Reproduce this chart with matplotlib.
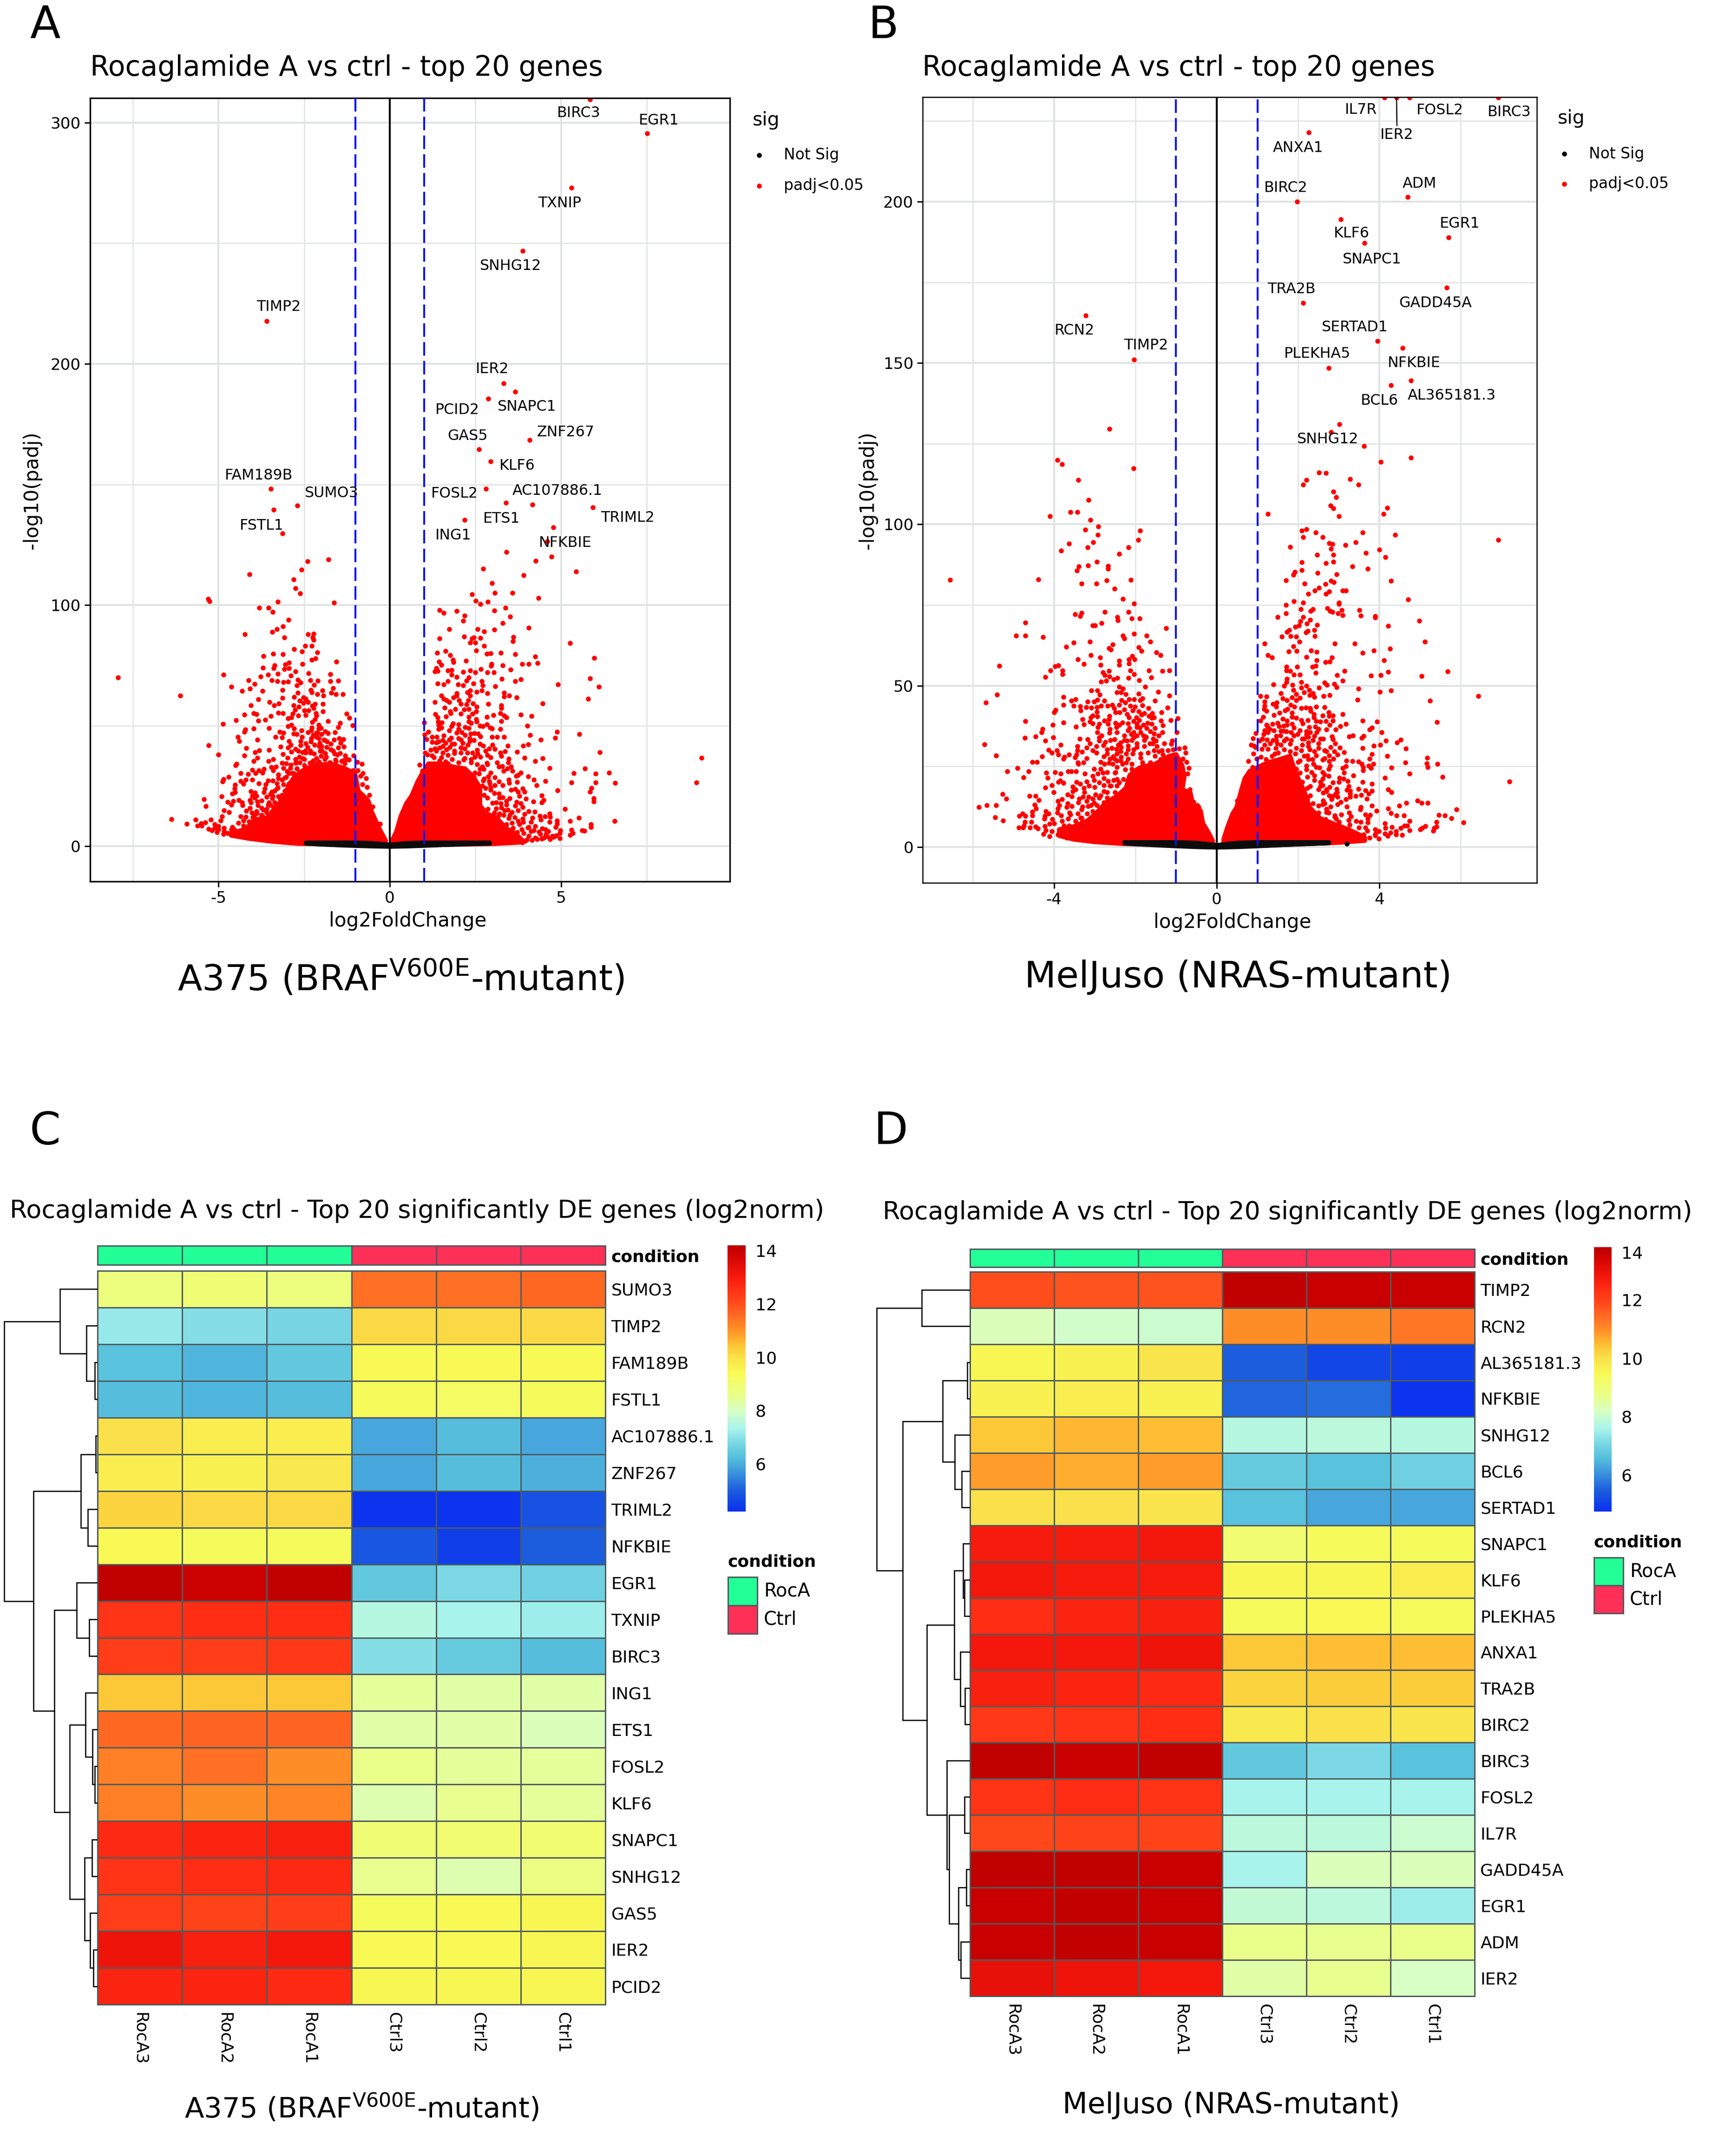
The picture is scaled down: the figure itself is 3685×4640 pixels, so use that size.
# =============================================================================
# Setup
# =============================================================================
import numpy as np
import matplotlib
matplotlib.use('Agg')
import matplotlib.pyplot as plt
from matplotlib.cm import ScalarMappable
from matplotlib.colors import LinearSegmentedColormap, ListedColormap, Normalize
from matplotlib.patches import Rectangle

plt.rcParams['font.family'] = ['DejaVu Sans']
plt.rcParams['mathtext.fontset'] = 'dejavusans'

W, H = 3685, 4640
DPI = 300

# =============================================================================
# Data: volcano A375 (log2FoldChange, -log10 padj)
# =============================================================================
a_top = [(7.51,295.5),(5.31,273),(5.85,309.6),(3.88,246.9),(-3.59,217.8),(3.32,192),(3.66,188.5),(2.88,185.6),
 (4.08,168.4),(2.6,164.6),(2.94,159.5),(-3.47,148.1),(2.81,148.1),(3.39,142.4),(4.16,141.7),(-2.7,141.2),
 (-3.39,139.5),(5.93,140.4),(2.18,135.2),(4.77,132.1),(-3.14,129.7),(4.6,126.4),(3.4,121.9),(4.72,120),
 (4.26,118.4),(-1.79,118.9),(-2.4,118.2),(-2.58,114.6),(2.73,115),(-4.1,112.8),(5.44,113.9),(3.91,112.3),
 (-2.81,110.7),(2.99,109),(-2.75,106.9),(-2.62,104.8),(3.58,105.1),(3.07,105.1),(2.4,104.4),(4.34,103),
 (2.51,101.8),(2.86,101.4),(2.65,100.5),(-5.3,102.5),(-5.27,101.6),(-3.27,101.4),(-1.63,101)]

a_left = [(-3.81,98.9),(-3.54,98.9),(-3.42,97.1),(-2.96,93.9),(-3.12,91.2),(-3.29,90),(-3.43,88.9),(-4.23,87.9),
 (-2.39,87.9),(-2.22,88),(-2.25,86.5),(-2.23,85.5),(-3.08,86.5),(-2.47,83),(-2.28,83),(-2.79,81.8),(-2.56,80.8),
 (-2.12,80.4),(-3.4,79.8),(-3.12,79.6),(-3.69,78.9),(-2.17,77.8),(-2.28,77.3),(-1.56,76.5),(-2.95,76.2),
 (-3.05,75.3),(-2.55,75.5),(-3.37,74.9),(-3.39,73.9),(-3.7,74),(-2.95,73.8),(-3.08,73.5),(-2.76,72.4),(-4.85,71.2),
 (-3.27,71.5),(-3.56,71.2),(-2.38,71.8),(-1.73,71.4),(-2.89,70.8),(-3.77,70.4),(-7.93,70),(-4.13,68.9),(-3.45,68.8),
 (-3.28,68.4),(-3.1,68),(-2.97,68.2),(-2.68,69),(-2.6,67.8),(-2.32,68.8),(-2.1,68.6),(-1.73,68.4),(-1.5,68.6),
 (-3.95,67.2),(-4.63,66.2),(-2.72,66.6),(-2.21,66.8),(-1.65,65.6),(-4.09,65.4),(-4.31,64.4),(-3.72,64.3),(-3.13,64.7),
 (-2.31,64.7),(-1.97,64.5),(-2.28,63.8),(-2.69,63.6),(-1.71,63.6),(-1.57,63.1),(-1.37,63.1),(-2.12,63),(-1.94,62.5),
 (-6.12,62.4),(-2.8,61.8),(-3.13,61.5),(-2.52,61.7),(-2.45,61.2),(-3.84,60.9),(-2.63,60.4),(-3.51,59.7),(-2.39,59.8),
 (-2.53,59.3),(-3.24,59.2),(-1.95,59),(-2.19,58.9),(-4.05,58.4),(-3.38,58.5),(-2.81,58.4),(-2.66,57.9),(-2.27,58.2),
 (-2.23,57.2),(-2.77,56.4),(-2.49,56.2),(-2.37,56.2),(-1.96,55.9),(-3.26,55.4),(-3.12,55.1),(-3.97,55.2),(-3.89,54.8),
 (-4.24,54.5),(-2.84,54.9),(-2.16,55.2),(-1.26,54.9),(-2.46,54.4),(-2.67,54.2),(-3.47,53.9),(-2.14,54.2),(-2.87,53.5),
 (-2.97,53.1),(-1.18,53.3),(-2.18,52.7),(-3.64,52.4),(-4.49,52.3),(-3.84,52.1),(-2.27,51.5),(-1.8,51.9),(-4.87,50.8),
 (-1.45,51),(-2.07,50.4),(-2.87,50.3),(-1.08,50.1),(-2.97,49.7),(-1.51,49.4),(-2.28,49.2),(-2.01,48.9),(-3.97,48.7),
 (-3.53,48.9),(-2.8,48.7),(-2.08,48.7),(-4.22,48.3),(-2.58,48.1),(-3.21,47.5),(-4.25,47.5),(-3.1,47.1),(-1.89,47.7),
 (-2.39,47.2),(-1.8,46.9),(-1.6,47.2),(-2.29,48),(-2.81,46.6),(-2.72,46.4),(-2.1,46.8),(-2.24,46.1),(-4.44,45.4),
 (-3.34,45.3),(-3.15,45.2),(-2.56,45.4),(-2.14,45.4),(-2.29,44.8),(-1.48,44.7),(-1.35,44.3),(-3.86,44.2),(-1.92,44.2),
 (-1.63,44.1),(-2.07,44.8),(-4.4,43.5),(-2.94,43.6),(-2.6,43.6),(-2.31,43.3),(-1.83,43.4),(-1.44,42.9),(-2.46,42.6),
 (-2.05,42.8),(-1.72,42.4),(-5.29,41.8),(-2.89,42),(-2.61,41.8),(-1.34,41.2),(-3.19,41.3),(-2.97,40.8),(-2.06,41.4),
 (-1.51,40.8),(-4.19,40.7),(-2.76,40.3),(-3.81,39.7),(-3.53,39.9),(-1.72,40.1),(-2.67,39.5),(-2.47,39.6),(-2.32,39.5),
 (-2.03,39.5),(-3.94,38.9),(-2.87,39.1),(-2.21,38.4),(-1.62,38.3),(-5,38),(-3.12,38.1),(-1.53,38),(-4.25,37.7),
 (-1.3,37.7),(-1.06,37.7),(-1.86,37.1),(-3.86,36.6),(-2.98,36.6),(-2.55,36.5),(-1.2,35.9),(-3.41,36.1),(-1.59,35.8),
 (-3.54,35.3),(-3.97,35.3),(-2.73,34.7),(-0.95,34.9),(-1.34,35.6),(-0.82,34.2),(-3.02,34.3),(-3.15,34.5),(-1.31,34.3),
 (-4.48,34.2),(-2.03,34.3),(-2.29,34.8),(-1.75,34.7),(-2.89,33.8),(-4.5,33.6),(-3.11,32.5),(-3.33,32.9),(-3.46,32.7),
 (-2.71,32.3),(-3.67,32),(-4.02,31.7),(-3.83,31.4),(-3.41,31.5),(-1.07,31.5),(-0.93,31.4),(-3.92,30.2),(-3.72,30.4),
 (-4.36,30.2),(-3.26,29.8),(-4.14,29.9),(-2.94,30.2),(-2.81,30.2),(-0.79,30.2),(-0.85,29.2),(-3.25,28.2),(-3.07,28.3),
 (-4.71,28.7),(-0.69,28.1),(-4.86,27.7),(-4.01,27.5),(-4.89,26.9),(-4.36,27.1),(-4.21,27.5),(-3.42,27.3),(-3.55,27.3),
 (-3.82,26.1),(-4.28,25.8),(-3.3,26.1),(-4.52,25.4),(-3.62,25.7),(-3.1,25.7),(-0.8,25.7),(-3.27,24.4),(-0.67,24.5),
 (-4.53,24),(-3.65,23.9),(-4.05,22.7),(-3.36,22.9),(-4.52,22.3),(-3.68,22.3),(-4.6,21.8),(-3.93,22.1),(-3.49,21.6),
 (-0.6,21.3),(-3.9,20.9),(-4.01,20.8),(-3.15,21.2),(-4.91,20.6),(-3.42,20.8),(-3.6,20.5),(-3.26,20.6),(-5.42,19.5),
 (-3.43,19.9),(-3.07,19.6),(-4.08,19.2),(-4.41,19.1),(-3.86,18.6),(-4.57,18.8),(-4.73,18.4),(-4.32,18.2),(-3.2,18.8),
 (-0.68,18.8),(-3.53,18.2),(-3.36,18.1),(-4.06,18.1),(-4.62,17.2),(-4.3,17),(-3.56,17.2),(-2.93,17.1),(-5.37,16.6),
 (-3.38,16.2),(-3.12,16.2),(-0.5,16.4),(-4.08,15.9),(-3.75,15.9),(-3.59,15.5),(-3.24,15.5),(-4.84,14.8),(-4.19,14.6),
 (-3.33,14.3),(-4.7,14.1),(-4.03,13.9),(-3.88,13.7),(-3.49,13.3),(-4.9,12.4),(-4.36,12.4),(-4.21,12.1),(-3.7,12.1),
 (-0.47,11.9),(-6.38,11.3),(-5.67,11.1),(-5.22,11.1),(-4.27,10.6),(-4.94,10.6),(-4,9.9),(-3.56,9.9),(-5.38,9.8),
 (-5.51,9.4),(-5.93,9.3),(-5.11,9),(-5.62,8.6),(-5.49,8.6),(-4.27,8.6),(-0.29,9.3),(-5,8.3),(-4.02,8),(-4.6,8),
 (-5.29,7.1),(-5.12,7.6),(-4.84,7.6),(-5.2,6.5),(-5,7),(-4.55,7),(-5.04,5.9),(-4.73,5.5),(-4.85,5)]

# clumps around the solid part, left side
a_left_clump = [(-2.45,38.8),(-2.32,38.8),(-1.98,39.5),(-1.88,38.5),(-2.01,37.5),(-2.14,36.5),(-2.24,35.5),(-2.08,35.1),(-1.9,36.1),
 (-1.75,34.8),(-1.57,35.1),(-1.41,35.3),(-2.5,36.1),(-2.63,34.8),(-2.76,34.5),(-2.5,33.5),(-2.34,34.5),(-2.16,34.2),(-2.71,32.2),
 (-2.86,30.2),(-3.02,28.8),(-3.15,27.5),(-3.07,22.9),(-3.2,19.6),(-3.49,16.9),(-3.69,15),(-3.95,12.9),(-4.11,10.3),(-4.42,9.6),
 (-4.63,7),(-4.84,6.3),(-3.69,10.9),(-3.28,12.9),(-4,12),(-3.9,14.5),(-3.8,11),(-3.75,13),(-3.6,14),(-3.5,12),(-3.4,15),(-3.3,17.5),
 (-3.2,15),(-3.15,19),(-3.1,21),(-3,23),(-3.85,17),(-3.75,19),(-3.95,20),(-3.45,22.5),(-3.3,24),(-2.95,26),(-3,31),(-2.9,32.5),
 (-2.75,36),(-2.65,37),(-2.55,39),(-2.4,41),(-2.2,42),(-2,41.5),(-1.85,41),(-1.65,39.5),(-1.45,38.5),(-1.25,36),(-1.9,44),(-2.15,47),(-2,46.5)]

a_right = [(3.38,98.8),(1.45,97.9),(1.95,97.5),(3.05,97.7),(1.57,96.7),(2.19,95.5),(3.52,95.3),(2.15,93.5),(3.3,92.5),
 (4.05,90.6),(1.74,90.1),(2.56,90.1),(3.05,89.8),(2.76,89.1),(2.17,87),(3.61,86.7),(2.46,86.5),(2.4,86.2),(2.64,86.3),
 (1.45,86.1),(3.59,85),(2.35,84.5),(2.49,84.5),(5.27,84.3),(2.75,83),(1.63,81),(2.52,81.2),(1.38,80.2),(3.24,80.2),
 (2.83,79.8),(2.94,80),(3.66,79.6),(1.76,79.3),(4.25,78.7),(5.97,78),(1.85,77.3),(2.23,76.9),(1.44,76.6),(1.86,76.3),
 (4.32,75.9),(2.97,75.6),(3.87,75.6),(4.06,75.5),(1.51,75.2),(3.29,74.9),(2.96,74.7),(1.36,73.9),(2.66,73.4),(1.81,73.1),
 (3.53,73.2),(1.7,72.8),(2.35,72.8),(1.4,72.6),(1.32,72.4),(2.15,72.2),(2.5,72.1),(2.85,72.1),(3.04,72.1),(1.8,71.1),
 (1.95,70.2),(2.31,70),(5.85,69.5),(3.27,69.3),(3.83,69.2),(2.24,68.6),(1.7,68.5),(2.69,68.5),(3.66,68.4),(1.4,67.4),
 (1.57,67.1),(2.44,67.4),(2,67),(4.91,67),(2.14,66.7),(2.71,66.6),(3.08,66.4),(6.1,66.2),(2.34,64.5),(2.69,64.5),
 (2.54,64),(3.34,63.7),(1.96,63.5),(2.85,63.5),(2.26,63.9),(1.51,62.5),(3.48,62.5),(2.35,62.5),(1.96,62.5),(3.34,62.1),
 (3.71,61.7),(1.86,61.7),(5.79,61.1),(1.57,61.2),(2.02,60.5),(2.29,60.5),(1.66,60.5),(1.32,59.8),(1.73,59.7),(2.08,59),
 (2.43,59.2),(2.87,58.9),(2.24,58.8),(4.46,59.1),(3.26,58.5),(3.25,57.2),(2.53,57.8),(1.6,57.4),(1.91,56.8),(2.31,56.9),
 (2.17,56.7),(1.76,56),(2.52,56),(1.33,54.8),(2.08,54.9),(1.78,55.2),(2.42,54.9),(3.03,54.3),(3.83,54.5),(3.23,55.1),
 (3.34,54.2),(4.14,53.9),(1.64,53.7),(1.4,53.4),(2.84,53.6),(2.31,53.6),(3.4,53.5),(2.52,52.6),(2.53,51.7),(3.25,51.8),
 (1.01,51.3),(1.41,51.7),(2.3,51.7),(1.52,51.2),(2.38,51.1),(1.85,50.9),(2.01,50.6),(2.84,50.6),(1.43,50.3),(2.63,49.9),
 (2.71,49.7),(4.01,49.9),(1.8,49.7),(1.51,49.1),(2.2,49.3),(2.93,49.1),(2.31,48.9),(2.99,48.7),(3.23,48.5),(1.43,48.6),
 (2.01,48.6),(1.73,48.1),(4.89,47.4),(1.13,47.4),(2.1,47.2),(2.47,46.9),(5.54,46.5),(2.36,46.6),(2.58,46.6),(1.02,46.2),
 (4.1,46),(1.57,45.8),(1.23,45.4),(1.37,45.4),(2.65,45.6),(2.99,45.4),(3.13,45.4),(3.34,45.4),(1.79,44.9),(4.83,45),
 (1.07,44.4),(2.33,44.8),(2.08,44.1),(4.41,44.2),(2.33,43.6),(1.42,43.4),(1.23,43.1),(1.88,42.4),(4.04,42.2),(2.63,42.4),
 (3,42),(2.28,42.1),(3.9,41.6),(3.44,41.6),(2.72,41.6),(1.54,41.4),(1.32,40.5),(2.9,40.5),(3.07,40.3),(1.66,40.1),
 (2.19,40.5),(2.79,39.5),(3.37,39.3),(3.72,39.2),(1.03,38.7),(6.13,38.9),(3.23,38.8),(2.07,38.8),(2.57,38.4),(1.88,38.5),
 (2.85,37.8),(3.25,37.5),(1.23,37.6),(2.41,38.7),(2.94,36.8),(3.93,36.6),(4.46,36.4),(3.47,36.3),(2.48,37.1),(1.51,36.8),
 (4.25,35.3),(2.37,34.8),(3.46,34.7),(3.14,34.8),(2.83,34.5),(2.85,34),(1.7,34.3),(0.87,33.8),(2.16,35.8),(3.19,33),
 (3.28,33.2),(2.63,32),(2.74,32),(3.54,33),(4.66,32.4),(5.7,32.2),(3.43,32.2),(0.95,31.2),(3.58,31.3),(3.33,31.2),
 (2.94,30.5),(2.48,30.5),(5.37,30.2),(3.83,30.5),(6.4,30.4),(6.01,30),(3.75,29.5),(3.69,29.2),(4.04,29),(2.88,29),
 (2.46,28.8),(3.07,28.5),(4.2,27.5),(2.73,27.2),(3.47,27.5),(3.19,26.9),(4.55,27),(3.72,26.7),(5.3,26.4),(6.01,26.4),
 (6.58,26.3),(8.95,26.4),(9.1,36.6),(3.48,26.2),(2.92,26.1),(3.29,25.3),(4.28,25.3),(3.07,25.2),(2.79,24.2),(5.89,24.2),
 (3.88,23.9),(3.66,23.7),(3.54,23.4),(4.9,23.1),(2.94,23.4),(3.94,22.5),(5.85,22.6),(3.75,22.5),(3.19,21.9),(2.76,21.2),
 (4.44,21),(3.78,20.9),(3.97,19.7),(5.95,19.9),(3.29,20.2),(3.5,19.9),(4.49,19.1),(3.41,18.8),(5.96,18.6),(4.19,18.6),
 (4.43,18.1),(3.7,18.4),(3.24,17.8),(3.1,18.2),(3.83,17.7),(3.41,17.2),(3.66,16.8),(3.88,16.2),(2.63,16.6),(2.86,15.4),
 (5.12,15.4),(3.11,15.6),(3.35,14.9),(3.75,14.8),(4.05,14.5),(4.23,14.3),(3.57,14.1),(4.66,13.5),(3.94,13.3),(3.05,13.9),
 (3.32,12.9),(3.17,12.7),(4.38,12.6),(4.53,12.3),(4.68,12.1),(4.16,11.8),(5.52,11.8),(3.47,11.6),(3.88,11.4),(4.41,11.1),
 (4.89,10.6),(5.26,10.4),(6.57,10.4),(4.13,10.1),(4.66,10.1),(3.75,10.4),(3.57,9.7),(4.88,9.3),(3.78,9),(3.41,9),
 (5.87,9),(4.24,8.4),(5.87,8),(4.84,8),(4.03,7.8),(3.6,7.6),(4.45,7.3),(5.3,6.8),(4.98,6.6),(5.62,6.6),(5.69,6.4),
 (4.63,6.2),(3.57,6.2),(4.13,6.3),(3.72,5.8),(4.35,6),(5.34,5.5),(3.91,5.5),(4.97,5.5),(4.56,5),(5.27,4.6),(4.79,3.8),
 (4.97,3.3),(4.06,4.3),(4.44,3.2),(4.68,3),(3.87,1.5),(4.25,3.6),(3.69,3.3),(4,2.7),(3.53,3)]

a_right_clump = [(1.35,39.5),(1.54,38.8),(1.7,37.8),(1.29,36.8),(1.45,35.5),(1.82,36.1),(2.01,34.8),(2.19,36.5),(2.38,36.1),(1.32,34.2),
 (1.63,35.1),(1.88,39.5),(2.07,40.8),(2.26,38.8),(1.45,40.8),(1.63,42.8),(1.82,42.4),(2.01,44.8),(1.73,44.1),(2.13,42.8),
 (4.3,3),(4.5,3.5),(4.15,2.5),(3.95,2.2),(4.6,4),(4.85,4.5),(4.75,4.2),(2.55,34),(2.7,33),(2.6,30),(2.75,28),(2.9,27),(2.7,25),
 (2.95,24.5),(3.05,22),(3.2,20),(2.85,20),(3,18),(3.25,16),(3.45,15),(3.5,13),(3.65,12),(3.2,13.5),(3.9,10),(4.05,8),(3.85,7),
 (4.2,6.5),(4.4,5),(4.55,7),(1.1,38),(1.2,40),(1.75,41),(1.55,44),(1.35,43),(1.95,47),(2.2,46),(2.45,44),(2.55,40),(2.65,37)]

# solid part of the cloud, where single points can no longer be told apart
a_dense_left_x = [-4.63,-4.21,-3.95,-3.59,-3.33,-3.07,-2.97,-2.81,-2.66,-2.45,-2.14,-1.72,-1.31,-1.02,-0.92,-0.63,-0.53,-0.32,-0.12]
a_dense_left_y = [5.5,7,11,11.6,16.2,18.9,24.9,28.2,30.2,32.2,33.5,34.2,32.2,30.2,22.9,18.9,14.3,7.6,2.3]
a_floor_left_x = [-0.12,-0.5,-1.5,-2.66,-3.43,-4.11,-4.63]
a_floor_left_y = [0.2,0.4,0.8,1.1,2,3.2,4.5]
a_dense_right_x = [0.07,0.2,0.32,0.48,0.64,0.82,0.95,1.13,1.51,1.88,2.19,2.44,2.63,2.63,2.82,3.13,3.38,3.69,3.88]
a_dense_right_y = [2.3,6.3,12.3,17.6,20.9,26.9,30.2,34.2,34.2,32.8,32.2,28.8,24.2,16.9,13.6,11.6,7.6,5,2.3]
a_floor_right_x = [3.88,3,2,1,0.07]
a_floor_right_y = [1.7,1,0.8,0.4,0.2]

# not significant band
a_ns_x = [-2.45,-2,-1.5,-1,-0.5,0,0.5,1,1.5,2,2.5,2.91]
a_ns_low = [1.3,0.9,0.6,0.35,0.15,0,0.15,0.4,0.7,0.9,1.15,1.3]
a_ns_high = [1.5,1.5,1.5,1.5,1.3,0.6,1.3,1.5,1.5,1.5,1.5,1.5]

a_labels = [('BIRC3',5.52,303.9),('EGR1',7.86,300.9),('TXNIP',4.96,266.6),('SNHG12',3.53,240.5),('TIMP2',-3.24,223.6),
 ('IER2',2.99,197.7),('PCID2',1.97,180.9),('SNAPC1',4.01,182.2),('ZNF267',5.13,171.6),('GAS5',2.27,170),('KLF6',3.72,157.8),
 ('FAM189B',-3.82,153.7),('SUMO3',-1.7,146.4),('FOSL2',1.89,146.2),('AC107886.1',4.9,147.3),('TRIML2',6.95,136.1),
 ('ETS1',3.27,135.8),('FSTL1',-3.74,132.9),('ING1',1.86,128.8),('NFKBIE',5.13,125.7)]

# =============================================================================
# Data: volcano MelJuso
# =============================================================================
b_top = [(2.26,221.4),(4.12,232.3),(4.74,232.3),(6.92,232.3),(4.42,232.3),(1.98,200),(4.7,201.4),(3.05,194.6),(3.63,187.2),
 (5.7,188.9),(5.65,173.4),(2.13,168.6),(-3.22,164.7),(3.95,156.8),(4.57,154.7),(-2.03,151.1),(2.75,148.4),(4.78,144.6),
 (4.28,143.1),(3.01,131),(-2.64,129.6),(2.81,128.6),(3.62,124.3),(4.78,120.6),(-3.92,120),(-3.8,118.7),(4.03,119.3),
 (-2.05,117.4),(2.51,116.1),(2.69,115.9),(3.28,114.1),(-3.4,113.7),(2.2,113.7),(2.13,112.3),(3.48,112.3),(2.87,110.1),
 (2.93,108.4),(-3.15,107.5),(2.8,105.8),(4.19,105.1),(2.87,104.9),(-3.43,103.8),(-3.6,103.8),(4.1,103.2),(1.26,103.3),
 (3,102.5),(-4.1,102.5),(-3.11,101.4),(-2.91,99.4),(2.09,98.1),(2.21,98.5),(2.43,97.5),(-3.23,98.3),(-1.88,98.1),(3.59,97.5),
 (-2.92,96.8),(4.39,96.8),(2.12,96.1),(2.6,96),(6.92,95.1),(-1.93,95.2),(-3.04,94.5),(3.42,94.5),(-3.63,94),(2.76,94.2),
 (2.84,93.9),(3.16,93.6),(-2.17,92.9),(-3.18,92.9),(1.81,93),(2.81,92.5),(4,92.2),(-3.83,91.8),(3.67,91.2),(-2.4,90.8),
 (2.47,90.5),(2.87,90.5),(4.15,89.8),(-2.95,88.4),(2.09,88.2),(2.87,88.4),(2.69,87.9),(-2.67,87.1),(-3.16,87.2),(-3.39,86.9),
 (3.34,87),(-2.67,86.2),(-3.44,85.6),(3.71,86.2),(2.09,85.8),(2.48,85),(1.92,85.2),(1.89,84.3),(-6.56,82.8),(-4.39,83),
 (2.95,84.5),(1.7,82.6),(-2.71,82.6),(-2.11,82.8),(4.28,82.5),(2.81,82.5),(2.88,82),(2.16,81.6),(2.67,81.5),(-3.32,81.6),
 (-2.96,81.6),(2.51,80.4),(-2.51,80.1),(2.41,79.5),(2.25,78.4),(2.69,78.5),(2.76,79.2),(3.09,79.5),(3.17,79.5),(4.71,76.8),
 (-2.31,76.9),(3,75.7)]

b_left = [(-2.03,75.4),(-2.75,72.8),(-3.32,72.5),(-3.48,72.1),(-3.36,71.5),(-2.17,72.8),(-2.44,71.2),(-2.43,70.2),(-2.09,70.8),
 (-1.9,70.8),(-4.71,69.6),(-2.83,69.4),(-3.05,68.7),(-2.99,68.7),(-1.25,67.8),(-4.93,65.5),(-4.71,65.5),(-4.27,65.1),
 (-2.03,66.1),(-2.31,65.5),(-1.72,65.5),(-2.27,64.7),(-1.63,63.7),(-3.52,63.4),(-3.12,63.6),(-2.56,62.8),(-3.7,62),(-1.92,61.9),
 (-2.65,61.6),(-2.6,61.2),(-1.85,60.8),(-1.48,60.3),(-1.38,59.5),(-3.1,59.5),(-2.08,59.2),(-2.87,58.7),(-2.16,58.1),(-2.02,58.1),
 (-3.41,58.1),(-2.4,57.8),(-2.16,56.9),(-3.27,56.7),(-5.34,56.2),(-2.86,56.5),(-2.4,56.4),(-3.98,56),(-3.89,56.3),(-4.09,54.7),
 (-3.79,54.7),(-2.12,54.7),(-2.65,54.5),(-1.67,54.7),(-1.34,54.5),(-1.16,54.7),(-2.8,54.2),(-3.79,53.5),(-2.75,53.3),(-2.03,53.5),
 (-2.64,52.8),(-4.22,52.7),(-2.44,52.4),(-1.61,52.6),(-2.53,52),(-2.17,52.4),(-2.72,51.6),(-1.91,51.7),(-2.84,51.3),(-1.76,49.7),
 (-2.4,49.7),(-2.31,49.1),(-3.08,48.5),(-2.93,48.5),(-2.46,48),(-2.35,48),(-1.44,48.1),(-2.24,47.4),(-5.4,47.2),(-1.92,47.5),
 (-2.88,47.2),(-1.16,47),(-3.77,46.5),(-1.83,46.1),(-3.47,45.8),(-2.03,45.8),(-2.16,45.8),(-2.34,45.5),(-3.57,45.4),(-2.94,45.6),
 (-2.76,45.4),(-1.52,45.3),(-1.89,45.5),(-3.17,45),(-3.02,45),(-2.25,44.8),(-5.68,44.8),(-3.77,44.1),(-2.12,43.8),(-2.4,44),
 (-2.57,44),(-3.52,43.7),(-2.84,43.7),(-2.68,43.7),(-3.36,43.6),(-2.01,43.5),(-1.83,43.9),(-3.21,43.3),(-3.08,43.2),(-1.21,43.2),
 (-2.95,43.3),(-2.52,43.1),(-1.68,43),(-3.35,42.3),(-3.96,42.5),(-2.07,42.3),(-1.92,42.1),(-2.27,42.6),(-4,41.8),(-2.95,41.9),
 (-2.49,41.8),(-2.39,41.7),(-1.36,41.8),(-1.78,41.5),(-2.2,41.2),(-1.59,41.5),(-3.05,40.8),(-1.67,40.6),(-2.64,40.6),(-2.94,40.4),
 (-1.54,40.2),(-0.96,39.9),(-3.09,40.1),(-1.98,40.1),(-2.16,40.1),(-3.3,39.6),(-1.13,39.3),(-1.37,39.1),(-4.71,39),(-1.91,39.3),
 (-2.76,39.1),(-2.65,39.6),(-3.12,38.8),(-3.77,38.6),(-2.49,38.5),(-2.32,38.6),(-2.18,38.3),(-3.05,38.3),(-2.89,38.2),(-1.6,38.2),
 (-3.27,38),(-1.96,38.1),(-2.67,38.1),(-4.03,37.8),(-1.32,37.7),(-2.4,37.8),(-1.8,37.8),(-3.46,37.3),(-2.47,37.1),(-2.92,37.1),
 (-1.52,36.9),(-4.28,36.6),(-2.63,36.6),(-2.15,36.8),(-1.72,36.9),(-4.31,35.6),(-2.94,35.6),(-0.98,35.5),(-2.05,35.6),(-2.64,35.4),
 (-1.34,35.6),(-2.45,35.6),(-1.63,35.9),(-2.83,34.6),(-1.43,34.6),(-1.8,34.6),(-2.27,34.6),(-4.72,33.8),(-4.46,34.2),(-4.02,33.9),
 (-3.37,33.5),(-2.89,33.9),(-2.51,33.4),(-2.05,33.9),(-1.56,33.6),(-3.17,33.4),(-2.62,33.1),(-4.21,32.9),(-2.89,32.9),(-2.27,33.1),
 (-1.78,33.1),(-3.12,32.1),(-2.74,32.6),(-1.29,32.1),(-5.71,31.8),(-3.84,31.6),(-2.36,32.4),(-1.12,31.9),(-2.79,31.5),(-1.58,32.1),
 (-2.18,31.4),(-3.43,31.2),(-2.96,31.2),(-2.42,31.7),(-3.2,30.8),(-1.96,30.9),(-0.79,30.8),(-0.92,30.5),(-2.58,30.7),(-2.47,30.4),
 (-3.43,29.9),(-4.13,30.1),(-3.93,29.9),(-2.69,30.2),(-1.54,29.9),(-3.05,29.9),(-4.06,29.2),(-1.07,30.2),(-3.31,29.5),(-2.96,29.2),
 (-0.77,29.2),(-2.23,28.9),(-2.07,28.9),(-3.63,28.6),(-3.9,28.7),(-5.43,28.4),(-3.45,28.7),(-2.69,28.9),(-1.87,28.9),(-1.32,28.7),
 (-2.78,28),(-4.29,28),(-3.75,27.9),(-3.48,27.8),(-2.35,27.9),(-3.77,27.3),(-3.2,27.5),(-2.63,27.3),(-2.51,27.3),(-0.83,27.4),
 (-2.18,27.4),(-2.45,26.7),(-4.53,26.4),(-4.42,26.4),(-2.85,26.4),(-0.74,26.3),(-3.41,26.2),(-3.28,26.2),(-3.4,25.7),(-2.76,25.8),
 (-2.56,25.7),(-0.91,25.4),(-2.32,25.7),(-4.9,24.4),(-3.02,24.2),(-0.69,24.4),(-2.45,24.7),(-2.85,24.2),(-2.09,24.2),(-5.15,23.4),
 (-4.63,23.4),(-3.66,23.4),(-3.58,23.4),(-3.46,23.5),(-3.98,23.1),(-4.19,23),(-3.84,22.8),(-3.24,22.7),(-2.69,23.2),(-0.72,22.8),
 (-2.92,22.7),(-2.8,23),(-2.49,23.2),(-3.05,22),(-4.75,21.6),(-4.16,21.5),(-2.78,21.3),(-2.45,21),(-3.85,20.6),(-3.02,20.7),
 (-3.2,20.3),(-3.45,20.2),(-3.89,20.2),(-2.67,20.5),(-3.77,19.8),(-2.89,20),(-2.54,20.7),(-2.78,19.2),(-3.36,19.5),(-4.06,19.1),
 (-3.14,19),(-2.63,19),(-4.22,18.4),(-3.54,18.7),(-2.45,19),(-3.27,18.3),(-3,18.5),(-3.47,17.8),(-0.66,17.9),(-2.78,17.3),
 (-4.01,17),(-3.25,17),(-3.54,17.3),(-5.27,16.4),(-2.98,16.3),(-3.67,16.3),(-4.6,15.8),(-4.46,15.8),(-3.56,15.7),(-3.29,15.5),
 (-3.38,15),(-5.17,14.9),(-2.89,15.3),(-3.05,15),(-2.69,15.3),(-3.8,14.8),(-4.38,14.6),(-3.2,14.3),(-2.43,14.5),(-0.57,14),
 (-3.91,14.3),(-3.4,13.8),(-3.67,13.5),(-2.78,13.8),(-3.02,13.7),(-5.65,13),(-5.42,12.9),(-4.48,13.1),(-2.23,13.8),(-2.36,12.8),
 (-0.48,12.9),(-5.85,12.3),(-3.87,13),(-3.56,12.6),(-3.16,12.7),(-0.45,12.3),(-4.44,11.9),(-3.91,11.9),(-3.32,11.7),(-3.69,12.3),
 (-2.85,11.8),(-4.2,11.1),(-4.53,11),(-3.05,11.1),(-3.62,10.6),(-3.42,10.3),(-4.14,10.4),(-3.92,10.6),(-4.77,10.4),(-2.63,10.8),
 (-3.19,10.3),(-4.85,9.6),(-4.71,9.6),(-4.53,9.8),(-4.23,9.6),(-3.83,9.8),(-5.45,9.2),(-3.65,8.8),(-3.32,9.1),(-5.25,8.2),
 (-4.04,8.6),(-4.24,8.7),(-3.07,9.1),(-4.72,7.8),(-4.56,7.7),(-3.8,8.1),(-3.47,8.1),(-3.32,7.6),(-2.85,8.1),(-4,7.3),(-3.63,6.6),
 (-4.11,7.2),(-4.74,6.6),(-4.23,6.4),(-3.76,6.6),(-3.47,6.3),(-4.86,6),(-4.46,6.3),(-4.59,6),(-4.4,5.8),(-4.76,6.1),(-4.2,5.1),
 (-4.05,4.9),(-3.87,5.4),(-4.26,4),(-4.11,3.3),(-3.91,3.9),(-3.69,2.9),(-3.52,2.6)]

b_left_clump = [(-1.96,34.6),(-2.09,33.1),(-1.96,32.1),(-1.78,31.2),(-1.65,32.1),(-1.47,31.2),(-2.18,30.2),(-2.05,30.2),(-1.87,27.7),(-1.69,29.2),
 (-1.52,28.2),(-1.38,27.2),(-1.29,26.7),(-2.36,26.7),(-2.23,26.2),(-2.09,25.7),(-1.83,26.2),(-1.63,26.2),(-1.43,29.7),(-1.74,34.1),
 (-1.96,37.1),(-2.18,36.1),(-1.87,35.6),(-1.54,35.1),(-2.36,29.7),(-3.3,12.5),(-3.1,13),(-2.95,13),(-3.15,15.5),(-2.85,16),(-2.7,17),
 (-2.6,19),(-2.5,17),(-2.4,20),(-2.3,21),(-2.25,24),(-2.5,23),(-2.65,26),(-2.55,28),(-2.45,29),(-2.35,31),(-2.2,33),(-2.1,35),(-1.9,37),
 (-1.7,38.5),(-1.5,33),(-1.35,30),(-1.2,30),(-1.1,33),(-1.6,40),(-1.85,41),(-2.05,39),(-3.6,10),(-3.35,9)]

b_right = [(1.9,76.1),(2.13,75.8),(3,75.3),(1.7,75),(2.07,73.7),(2.37,73.7),(2.31,73.1),(2.72,74),(2.79,73.2),(2.84,72.9),(3.07,73.4),
 (3.51,73.4),(2.98,72.4),(1.7,72.4),(3.09,71.9),(3.54,71.7),(3.89,71.6),(3.89,71.1),(1.5,71.2),(2.13,71.2),(2.3,70.4),(2.06,69.9),
 (4.98,70.1),(2.22,69.2),(2.47,68.8),(4.21,68.5),(2.02,68.7),(1.93,68.2),(1.78,67.3),(2.4,67.2),(2.24,66.9),(1.72,66.6),(2.19,66.5),
 (1.82,65.4),(2.41,65.3),(1.6,65.2),(1.95,65.2),(2.03,63.7),(5.12,63.6),(1.18,63),(2.9,63.1),(3.39,63.1),(1.88,62.2),(4.26,61.5),
 (3.86,60.9),(2.32,60.9),(1.77,60.6),(1.96,60.7),(2.46,60.4),(3.59,60.2),(1.26,59.5),(2.2,58.9),(2.83,58.8),(1.36,58.8),(2.46,57.9),
 (4.11,57.9),(2.78,57.5),(2.67,57.3),(1.98,55.9),(2.43,56.2),(2.35,55.8),(1.71,55.9),(5.68,54.4),(3.14,54.6),(4.21,54.3),(1.71,54.7),
 (1.8,54.5),(2.43,54),(2.96,53.2),(1.9,53.4),(2.04,53.4),(3.79,53.1),(4.03,53.3),(5.04,53),(1.72,52.1),(3.09,51.6),(1.71,51.1),
 (2.08,51.1),(2.65,51),(2.71,50.3),(1.39,50.4),(2.89,50.6),(1.66,50),(1.86,50.2),(2.2,49.9),(2.08,49.4),(2.51,49.4),(2.95,49.5),
 (3.48,49.1),(1.89,48.6),(4.28,48.5),(4.01,48.1),(2.27,48.7),(2.15,47.9),(1.58,47.6),(2.37,47.7),(1.95,47.4),(2.29,47.1),(2.78,47.1),
 (6.43,46.8),(1.07,46.8),(1.22,46.7),(2.63,46.8),(2.4,46.5),(2.04,46.2),(1.62,46.1),(1.85,46.3),(3.46,45.7),(1.72,45.5),(5.24,45.4),
 (1.95,45.5),(1.18,45.1),(1.47,44.8),(1.38,44.3),(1.82,44),(1.18,43.8),(1.91,43.5),(1.46,43.5),(2.45,43.5),(2.65,43.3),(2.08,43),
 (2.19,43.2),(2.3,43.1),(1.74,42.8),(1.16,42.7),(1.68,42.3),(2.31,42.2),(1.22,42.2),(1.85,41.6),(2.75,41.7),(1.54,41.6),(3.09,41.2),
 (1.4,40.9),(2.39,41.1),(2.6,40.7),(2.85,40.7),(2.77,40.6),(1.14,40.3),(1.85,40.3),(1.95,40),(2.39,40.1),(1.62,39.8),(2.08,39.3),
 (2.24,39.3),(3.59,39.1),(3.94,38.9),(2.45,39),(1.72,39.1),(1.07,39.1),(2.86,39.1),(5.41,38.7),(2.69,39),(2.55,38.8),(2.11,38.3),
 (3.18,38.2),(1.37,38.2),(1.85,38.2),(1.73,37.9),(2.78,37.9),(1.22,37.8),(1.65,37.5),(1.53,37.4),(3.04,37.4),(2.27,37.2),(2.42,37.3),
 (3.81,37),(3.76,36.4),(1.26,37.1),(1.41,36.1),(2.92,36.4),(2.7,36.4),(1.18,36.1),(2.05,36.1),(1.58,36),(2.2,35.9),(1.71,35.9),
 (1.83,35.6),(4.05,35.5),(0.96,35.3),(2.46,35.5),(1.99,35),(1.26,35.6),(3.35,34.6),(3.26,34.3),(1.46,34.4),(2.4,34.4),(2.83,34.2),
 (3.61,34.4),(3.56,33.8),(1.56,34.6),(2.25,34.1),(0.89,33.7),(1.12,33.5),(2.62,33.6),(2.15,33.5),(2.86,33.4),(1.23,33.2),(1.83,33.1),
 (4.52,33.3),(4.16,32.9),(4.43,32.4),(1.38,33.1),(1.66,32.9),(2.91,32.1),(0.84,31.6),(0.91,31.4),(2.5,32.1),(2.25,32.4),(1.48,32.1),
 (1.18,31.7),(4.02,31.7),(1.8,31.9),(3.86,31.4),(1.58,31.6),(3.03,30.8),(4.65,30.5),(3.59,30.6),(1.45,30.6),(1.11,30.4),(2.5,30.7),
 (1.26,30.4),(2.08,29.9),(2.28,30.2),(2.7,29.6),(3.13,29.4),(2.89,29.6),(0.9,29),(3.82,28.8),(1.43,28.9),(1.93,28.9),(2.97,28.7),
 (2.76,28.3),(2.23,28.4),(2.45,28.4),(4.19,28.2),(5.17,27.6),(1.09,27.9),(2.65,27.5),(3.76,27.4),(2.87,27.3),(0.98,27.3),(1.56,27.2),
 (2.25,27.2),(0.78,26.6),(3.19,26.8),(3.34,26.6),(3.48,26.5),(2.77,26.6),(4.64,26.2),(3.85,25.8),(5.42,25.8),(5.16,25.9),(2,26.4),
 (3.56,25.7),(2.38,25.7),(3.74,25.2),(0.88,24.8),(5.19,24.7),(3.6,24.8),(3.17,25),(2.79,25.2),(4.29,24.6),(3.09,24.4),(1.95,24.2),
 (3.79,24.5),(2.2,24),(2.52,24.6),(2.75,24.2),(3.6,23.8),(3.13,23),(2.33,23.2),(4.74,22.7),(2.05,23),(0.79,22),(2.65,22.5),(3.36,22.1),
 (2.4,22.2),(5.55,21.7),(4.13,21.5),(3.02,21.5),(2.23,21.7),(3.12,21.2),(2.6,21.2),(0.75,20.3),(3.22,20.5),(3,20.1),(3.59,20.1),
 (7.2,20.3),(2.55,20.2),(3.82,19.5),(2.1,20.2),(2.6,19.2),(0.66,19),(3.24,18.8),(2.78,18.5),(3.48,18),(4.21,17.9),(3.66,17.6),(3.2,17.7),
 (0.65,18.1),(3.81,17.4),(3.28,17.4),(2.23,18.3),(2.5,17.8),(2.7,17.8),(2.96,17),(4.29,17),(3.74,16.6),(2.62,16.8),(2.92,16.5),(3.28,16.5),
 (3.55,16.1),(3.42,15.8),(3.28,15.6),(2.77,16),(2.3,16),(2.97,15.5),(3.69,14.9),(3.17,14.8),(2.23,14.8),(4.94,14.4),(0.5,14.4),(2.82,14.8),
 (2.62,14.4),(5.19,13.6),(5.04,13.6),(4.66,13.6),(2.37,13.5),(0.53,13.7),(2.65,13.5),(2.97,13.3),(4.49,12.8),(3.81,12.8),(2.5,12.8),
 (2.8,12.5),(0.49,12.3),(3.54,12.3),(2.25,12.5),(4.21,12),(5.89,11.7),(3.53,11.7),(2.7,11.8),(3.93,11.2),(2.35,11.1),(3.25,10.6),(4.28,10.5),
 (2.75,10.6),(2.5,10.6),(0.41,10.2),(3.66,10.1),(4.42,9.8),(4.6,9.8),(3.06,10.1),(5.46,9.9),(5.61,9.8),(3.77,9.9),(2.9,9.8),(2.28,9.6),
 (5.77,8.9),(3.71,8.8),(3.24,8.4),(2.94,8.8),(2.67,8.6),(3.43,8.1),(4.74,8),(3.54,7.8),(5.4,7.7),(3.71,7.6),(3,7.7),(6.07,7.6),(4.14,7.3),
 (3.27,6.9),(2.6,7.6),(5.4,6.3),(5.13,6.4),(4.68,6.6),(4.61,6.6),(4.31,6.2),(4.15,5.9),(4.52,5.9),(5.35,5.9),(3.66,6.1),(5.05,5.9),(5,5.5),
 (3.09,5.6),(3.24,5.4),(3.89,5.4),(4.74,5.1),(5.32,5),(4.41,4.9),(4.27,4.4),(3.99,4.9),(4.41,3.9),(4.14,4.1),(4.56,3.7),(3.61,3.9),(3.89,3.6),
 (3.99,2.6),(3.76,2.9),(3.49,3.4),(3.24,2.9),(3.04,2.4),(2.85,1.9)]

b_right_clump = [(1.21,27.2),(1.36,28.2),(1.51,29.2),(1.66,30.2),(1.8,29.7),(1.95,30.7),(2.1,31.6),(2.25,31.2),(2.4,29.7),(2.15,28.2),(2.35,27.2),
 (2.05,26.7),(2.2,25.2),(2.45,24.7),(2.6,23.2),(2.4,20.7),(2.55,18.8),(2.3,18.8),(2.7,17.3),(2.85,15.8),(2.6,13.3),(2.7,10.8),(2.9,9.3),
 (3,7.8),(2.8,7.6),(1.31,32.1),(1.46,33.1),(1.71,33.6),(1.9,34.6),(2.2,34.9),(2.37,33.1),(0.95,31),(1.05,33),(1.15,35),(1.3,36.5),(1.5,38.5),
 (1.65,36),(1.9,37),(2.1,33.5),(2.3,35.5),(2.5,36.5),(2.55,33.5),(2.65,30),(2.8,31),(2.6,27),(2.75,22),(2.85,20),(2.95,18),(3.05,14),(3.2,12.5),
 (3.3,9.5),(3.5,6),(3.7,5),(3.9,4),(4.2,3.5),(3.4,4.5)]

b_dense_left_x = [-3.87,-3.52,-3.16,-2.94,-2.72,-2.45,-2.23,-2.14,-2.0,-1.87,-1.52,-1.16,-1.0,-0.85,-0.8,-0.85,-0.65,-0.58,-0.4,-0.34,-0.2,-0.1]
b_dense_left_y = [5.4,6.3,8.3,10.8,13.8,15.8,18.3,22.2,23.7,24.7,25.7,28.2,28.7,25.2,21.7,17.8,16.8,12.8,11.3,7.3,4.4,1.9]
b_floor_left_x = [-0.1,-0.5,-1.5,-2.27,-3,-3.52,-3.87]
b_floor_left_y = [0.2,0.4,0.8,1,1.6,2.4,3.5]
b_dense_right_x = [0.17,0.27,0.39,0.49,0.61,0.69,0.81,1.01,1.26,1.56,1.8,1.93,2.15,2.28,2.55,2.85,3.24,3.49,3.64]
b_dense_right_y = [2.4,6.3,10.3,12.3,17.8,21.2,23.5,24.7,26.2,27.2,28.2,23.2,17.3,12.3,8.8,7.3,5.4,3.9,2.9]
b_floor_right_x = [3.64,3,2,1,0.17]
b_floor_right_y = [2,1.4,0.9,0.4,0.2]

b_ns_x = [-2.27,-2,-1.5,-1,-0.5,0,0.5,1,1.5,2,2.5,2.75]
b_ns_low = [1.3,1,0.7,0.4,0.15,0,0.15,0.4,0.7,0.95,1.2,1.3]
b_ns_high = [1.5,1.5,1.5,1.5,1.3,0.6,1.3,1.5,1.5,1.5,1.5,1.5]
b_ns_extra = [(3.2,1.04)]

b_labels = [('IL7R',3.55,228.4),('FOSL2',5.49,228.3),('BIRC3',7.19,227.7),('IER2',4.43,220.6),('ANXA1',2,216.6),('BIRC2',1.7,204.3),
 ('ADM',4.98,205.6),('KLF6',3.32,190.1),('EGR1',5.98,193.2),('SNAPC1',3.82,182.1),('TRA2B',1.84,172.9),('GADD45A',5.37,168.5),
 ('SERTAD1',3.4,161),('RCN2',-3.5,160),('TIMP2',-1.74,155.5),('PLEKHA5',2.47,152.9),('NFKBIE',4.85,150),('AL365181.3',5.78,139.9),
 ('BCL6',4,138.3),('SNHG12',2.73,126.3)]

# =============================================================================
# Data: heatmaps
# =============================================================================
samples = ['RocA3', 'RocA2', 'RocA1', 'Ctrl3', 'Ctrl2', 'Ctrl1']
condition = [0, 0, 0, 1, 1, 1]

c_genes = ['SUMO3','TIMP2','FAM189B','FSTL1','AC107886.1','ZNF267','TRIML2','NFKBIE','EGR1','TXNIP','BIRC3','ING1','ETS1','FOSL2',
           'KLF6','SNAPC1','SNHG12','GAS5','IER2','PCID2']
c_values = [[8.8,8.9,8.8,11.5,11.5,11.6],[7.1,6.9,6.7,10.1,10.1,10.1],[6.3,6.1,6.4,9.4,9.4,9.4],[6.2,6.1,6.2,9.3,9.2,9.3],
 [10,9.7,9.7,5.9,6.2,5.9],[9.7,9.6,9.8,5.9,6.2,6],[10.2,10.1,10.1,4.3,4.3,4.8],[9.4,9.3,9.3,4.9,4.5,5],
 [14.1,13.9,14.1,6.4,6.8,6.6],[12.5,12.6,12.6,7.5,7.3,7.2],[12.3,12.3,12.4,6.9,6.5,6.2],[10.4,10.4,10.4,8.4,8.3,8.3],
 [11.6,11.7,11.7,8.3,8.3,8.1],[11.3,11.5,11.1,8.6,8.4,8.4],[11.3,11.1,11.2,8.2,8.5,8.4],[12.7,12.8,12.9,8.9,9,9],
 [12.5,12.6,12.7,8.5,8.2,8.7],[12.3,12.2,12.3,9.3,9.4,9.5],[13.2,12.9,13.1,9.4,9.4,9.5],[12.8,12.8,12.7,9.5,9.5,9.5]]
c_ticks = [14, 12, 10, 8, 6]
c_range = (4.2, 14.2)

d_genes = ['TIMP2','RCN2','AL365181.3','NFKBIE','SNHG12','BCL6','SERTAD1','SNAPC1','KLF6','PLEKHA5','ANXA1','TRA2B','BIRC2','BIRC3',
           'FOSL2','IL7R','GADD45A','EGR1','ADM','IER2']
d_values = [[11.81,11.72,11.72,13.72,13.63,13.63],[8.28,8.1,8,11,11,11.27],[9.55,9.64,9.91,5.47,5.1,5.01],[9.64,9.73,9.64,5.56,5.65,4.83],
 [10.36,10.54,10.45,7.73,7.82,7.73],[10.82,10.63,10.82,6.83,6.64,6.92],[10,10,9.91,6.64,6.28,6.28],[12.72,12.72,12.81,9.09,9.37,9.37],
 [12.81,12.72,12.72,9.55,9.55,9.73],[12.36,12.54,12.63,9.37,9.46,9.37],[12.81,12.81,12.9,10.36,10.45,10.45],[12.63,12.54,12.45,10.18,10.27,10.27],
 [12.18,12.27,12.36,9.82,10,9.91],[13.72,13.63,13.72,6.73,7.1,6.64],[12.27,12.36,12.27,7.55,7.55,7.55],[11.9,12,12,7.82,7.82,8],
 [13.72,13.72,13.63,7.55,8.28,8.28],[13.63,13.67,13.63,7.91,7.82,7.46],[13.63,13.67,13.63,8.73,8.64,8.73],[13,12.9,12.81,8.46,8.64,8.19]]
d_ticks = [13.63, 12, 10, 8, 6]
d_tick_labels = ['14', '12', '10', '8', '6']
d_range = (4.74, 13.81)

# row clustering: child a, child b, height. Leaves are row numbers, merged nodes count on from 20
c_merges = [(2,3,5),(1,20,20),(0,21,66),(4,5,3),(6,7,17),(23,24,29),(9,10,15),(8,26,37),(13,14,5),(12,28,9),(11,29,21),
            (15,16,10),(18,19,7),(17,32,13),(31,33,23),(30,34,49),(27,35,76),(25,36,113),(22,37,164)]
d_merges = [(0,1,88),(2,3,5),(5,6,15),(4,22,28),(21,23,50),(8,9,10),(7,25,13),(11,12,9),(10,27,18),(26,28,29),(14,15,10),
            (16,17,7),(18,19,17),(31,32,21),(30,33,38),(13,34,42),(29,35,79),(24,36,123),(20,37,170)]

# colour scale of panel C
cmap_values = [4.2,5,5.9,6.3,6.8,7.3,8,8.5,9.4,10,10.4,11,11.5,12,12.6,13.1,14,14.2]
cmap_colors = ['#0a2ff0','#1c5ede','#48a8dc','#5ac4dc','#7cd8e4','#a8f4ec','#d8ffc4','#e8ff90','#f8fa55','#fae04a','#fcc837','#ff9428',
               '#ff7024','#ff4e1c','#ff2e14','#f4170c','#c80000','#bc0000']
cond_colors = ['#22ff96', '#ff3058']

# =============================================================================
# Helpers
# =============================================================================
GRID = '#e0e3e3'
EDGE = '#4f5b5d'
MARKER = 6.5
heat_cmap = LinearSegmentedColormap.from_list(
    'heat', [((v - cmap_values[0]) / (cmap_values[-1] - cmap_values[0]), c) for v, c in zip(cmap_values, cmap_colors)])

fig = plt.figure(figsize=(W / DPI, H / DPI), dpi=DPI)


def ax_px(left, top, right, bottom, **kw):
    return fig.add_axes([left / W, 1 - bottom / H, (right - left) / W, (bottom - top) / H], **kw)


def txt(x, y, s, **kw):
    kw.setdefault('ha', 'center')
    kw.setdefault('va', 'center')
    fig.text(x / W, 1 - y / H, s, **kw)


def volcano(box, xlim, ylim, xmajor, xminor, ymajor, yminor, groups, dense, ns, labels, lw):
    ax = ax_px(*box)
    ax.set_xlim(*xlim)
    ax.set_ylim(*ylim)
    ax.set_axisbelow(True)
    ax.set_xticks(xmajor)
    ax.set_xticks(xminor, minor=True)
    ax.set_yticks(ymajor)
    ax.set_yticks(yminor, minor=True)
    ax.grid(True, which='major', color=GRID, lw=0.95)
    ax.grid(True, which='minor', color=GRID, lw=0.6)
    ax.tick_params(which='minor', length=0)
    ax.tick_params(which='major', length=2.8, width=0.7, labelsize=8.2, pad=2)
    ax.xaxis.set_major_formatter(lambda v, _: f'{v:g}')
    for spine in ax.spines.values():
        spine.set_linewidth(lw)

    for xs, ys in dense:
        ax.fill(xs, ys, color='#ff0000', lw=2.4, joinstyle='round', zorder=2)
    for pts in groups:
        pts = np.array(pts)
        ax.scatter(pts[:, 0], pts[:, 1], s=MARKER, color='#ff0000', lw=0, zorder=2.2)

    ax.fill_between(ns[0], ns[1], ns[2], color='#0c0c0c', lw=2.4, joinstyle='round', zorder=2.5)
    ax.axvline(0, color='black', lw=1.0, zorder=3)
    for xv in (-1, 1):
        ax.axvline(xv, color='#0a14f5', lw=1.0, dashes=(7, 2.7), zorder=3)
    for name, lx, ly in labels:
        ax.text(lx, ly, name, fontsize=7.6, ha='center', va='center', zorder=5)
    return ax


def dendrogram(ax, merges, n_rows):
    nodes = {i: (i + 0.5, 0.0) for i in range(n_rows)}
    for k, (a, b, height) in enumerate(merges):
        ya, ha = nodes[a]
        yb, hb = nodes[b]
        ax.plot([ha, height, height, hb], [ya, ya, yb, yb], color='black', lw=0.62, solid_joinstyle='miter')
        nodes[n_rows + k] = ((ya + yb) / 2, height)
    ax.set_ylim(n_rows, 0)
    ax.set_xlim(max(m[2] for m in merges) + 1, 0)
    ax.axis('off')


def heatmap(mat_box, bar_box, den_left, cb_box, leg, values, genes, vrange, ticks, ticklabels, merges):
    values = np.array(values)
    norm = Normalize(*vrange)

    ax = ax_px(*mat_box)
    ax.pcolormesh(values, cmap=heat_cmap, norm=norm, edgecolors=EDGE, linewidth=0.72)
    ax.set_ylim(len(genes), 0)
    ax.set_yticks(np.arange(len(genes)) + 0.5, genes, fontsize=8.7)
    ax.yaxis.tick_right()
    ax.set_xticks(np.arange(len(samples)) + 0.5, samples, rotation=270, fontsize=8.7)
    ax.tick_params(axis='y', length=0, pad=3)
    ax.tick_params(axis='x', length=0, pad=4)
    for spine in ax.spines.values():
        spine.set_color(EDGE)
        spine.set_linewidth(0.72)

    bar = ax_px(mat_box[0], bar_box[0], mat_box[2], bar_box[1])
    bar.pcolormesh([condition], cmap=ListedColormap(cond_colors), edgecolors=EDGE, linewidth=0.72)
    bar.set_xticks([])
    bar.set_yticks([0.5], ['condition'], fontsize=8.7, fontweight='bold')
    bar.yaxis.tick_right()
    bar.tick_params(length=0, pad=3)
    for spine in bar.spines.values():
        spine.set_color(EDGE)
        spine.set_linewidth(0.72)

    den = ax_px(den_left, mat_box[1], mat_box[0], mat_box[3])
    dendrogram(den, merges, len(genes))

    cax = ax_px(*cb_box)
    cb = fig.colorbar(ScalarMappable(norm=norm, cmap=heat_cmap), cax=cax)
    cb.set_ticks(ticks, labels=ticklabels)
    cb.ax.tick_params(length=0, labelsize=8.7, pad=5)
    cb.outline.set_visible(False)

    # condition legend
    lx, ly, bw, bh = leg
    txt(lx, ly - 60, 'condition', fontsize=8.7, fontweight='bold', ha='left')
    for i, name in enumerate(['RocA', 'Ctrl']):
        fig.add_artist(Rectangle((lx / W, 1 - (ly - 27 + (i + 1) * bh) / H), bw / W, bh / H, transform=fig.transFigure,
                                 facecolor=cond_colors[i], edgecolor=EDGE, lw=0.72))
        txt(lx + bw + 14, ly - 27 + (i + 0.5) * bh, name, fontsize=9.6, ha='left')


# =============================================================================
# Panels A, B: volcano plots
# =============================================================================
volcano((194, 211, 1571, 1897), (-8.75, 9.93), (-14.6, 310.2), [-5, 0, 5], [-7.5, -2.5, 2.5, 7.5], [0, 100, 200, 300], [50, 150, 250],
        [a_top, a_left, a_left_clump, a_right, a_right_clump],
        [(a_dense_left_x + a_floor_left_x, a_dense_left_y + a_floor_left_y),
         (a_dense_right_x + a_floor_right_x, a_dense_right_y + a_floor_right_y)],
        (a_ns_x, a_ns_low, a_ns_high), a_labels, 0.8)

ax_b = volcano((1986, 209, 3308, 1900), (-7.23, 7.87), (-11.1, 232.4), [-4, 0, 4], [-6, -2, 2, 6], [0, 50, 100, 150, 200], [25, 75, 125, 175, 225],
               [b_top, b_left, b_left_clump, b_right, b_right_clump],
               [(b_dense_left_x + b_floor_left_x, b_dense_left_y + b_floor_left_y),
                (b_dense_right_x + b_floor_right_x, b_dense_right_y + b_floor_right_y)],
               (b_ns_x, b_ns_low, b_ns_high), b_labels, 0.6)
ax_b.scatter(*zip(*b_ns_extra), s=MARKER, color='#0c0c0c', lw=0, zorder=2.5)
# repel segment of IER2
ax_b.plot([4.42, 4.43], [232.3, 223.6], color='black', lw=0.6, zorder=4)

txt(194, 146, 'Rocaglamide A vs ctrl - top 20 genes', fontsize=14.4, ha='left')
txt(1985, 146, 'Rocaglamide A vs ctrl - top 20 genes', fontsize=14.4, ha='left')

txt(878, 1982, 'log2FoldChange', fontsize=10.1)
txt(2653, 1985, 'log2FoldChange', fontsize=10.1)
txt(69, 1055, '-log10(padj)', fontsize=10, rotation=90)
txt(1868, 1055, '-log10(padj)', fontsize=10, rotation=90)

# volcano legends
for lx, sy, y1, y2 in ((1620, 259, 334, 400), (3353, 255, 331, 396)):
    txt(lx, sy, 'sig', fontsize=9.8, ha='left')
    leg = fig.add_axes([0, 0, 1, 1], facecolor='none')
    leg.set_xlim(0, W)
    leg.set_ylim(H, 0)
    leg.axis('off')
    leg.scatter([lx + 14], [y1], s=MARKER, color='black', lw=0)
    leg.scatter([lx + 14], [y2], s=MARKER, color='#ff0000', lw=0)
    txt(lx + 67, y1, 'Not Sig', fontsize=7.9, ha='left')
    txt(lx + 67, y2, 'padj<0.05', fontsize=7.9, ha='left')

txt(863, 2106, r'A375 (BRAF$^{\mathrm{V600E}}$-mutant)', fontsize=18.4)
txt(2665, 2103, 'MelJuso (NRAS-mutant)', fontsize=19)

# =============================================================================
# Panels C, D: heatmaps
# =============================================================================
heatmap((210, 2735, 1303, 4314), (2681, 2722), 8, (1566, 2680, 1605, 3253), (1567, 3421, 63, 61),
        c_values, c_genes, c_range, c_ticks, [str(t) for t in c_ticks], c_merges)
heatmap((2088, 2737, 3174, 4296), (2688, 2727), 1886, (3431, 2684, 3469, 3253), (3431, 3379, 63, 60),
        d_values, d_genes, d_range, d_ticks, d_tick_labels, d_merges)

txt(898, 2606, 'Rocaglamide A vs ctrl - Top 20 significantly DE genes (log2norm)', fontsize=13)
txt(2771, 2609, 'Rocaglamide A vs ctrl - Top 20 significantly DE genes (log2norm)', fontsize=12.9)
txt(778, 4538, r'A375 (BRAF$^{\mathrm{V600E}}$-mutant)', fontsize=14.6)
txt(2650, 4531, 'MelJuso (NRAS-mutant)', fontsize=15)

# panel letters
for x, y, letter in ((97, 56, 'A'), (1902, 56, 'B'), (97, 2436, 'C'), (1917, 2436, 'D')):
    txt(x, y, letter, fontsize=23)

fig.savefig('out.png', dpi=DPI)
